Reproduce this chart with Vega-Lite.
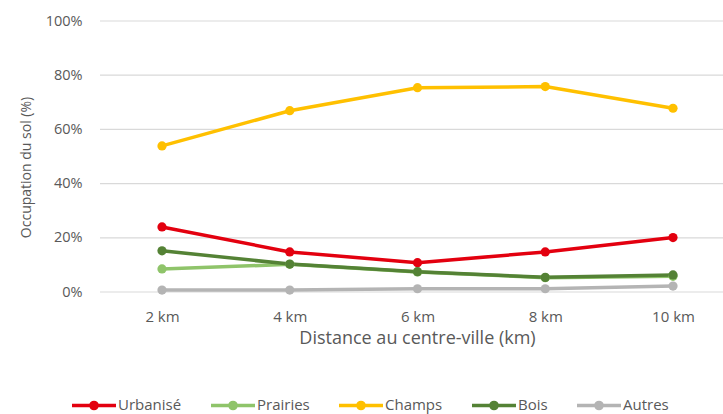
{
  "$schema": "https://vega.github.io/schema/vega-lite/v6.json",
  "width": 623,
  "height": 271,
  "autosize": {"type": "none"},
  "padding": {"left": 100, "top": 21, "right": 0, "bottom": 122},
  "background": "white",
  "config": {
    "view": {"stroke": null},
    "font": "Open Sans",
    "axis": {"labelColor": "#595959", "titleColor": "#595959", "titleFontWeight": "normal"},
    "legend": {"labelColor": "#595959"}
  },
  "layer": [
    {
      "data": {"values": [{"g": 0}, {"g": 0.2}, {"g": 0.4}, {"g": 0.6}, {"g": 0.8}, {"g": 1}]},
      "mark": {"type": "rule", "color": "#d9d9d9", "strokeWidth": 1.2},
      "encoding": {
        "y": {
          "field": "g",
          "type": "quantitative",
          "scale": {"domain": [0, 1]},
          "axis": {
            "title": "Occupation du sol (%)",
            "format": ".0%",
            "values": [0, 0.2, 0.4, 0.6, 0.8, 1],
            "domain": false,
            "ticks": false,
            "grid": false,
            "labelFontSize": 14.5,
            "labelPadding": 18,
            "titleFontSize": 14,
            "titleX": -67,
            "titleY": 146
          }
        }
      }
    },
    {
      "data": {
        "values": [
          {"distance": "2 km", "type": "Urbanisé", "value": 0.24},
          {"distance": "4 km", "type": "Urbanisé", "value": 0.148},
          {"distance": "6 km", "type": "Urbanisé", "value": 0.108},
          {"distance": "8 km", "type": "Urbanisé", "value": 0.148},
          {"distance": "10 km", "type": "Urbanisé", "value": 0.201},
          {"distance": "2 km", "type": "Prairies", "value": 0.085},
          {"distance": "4 km", "type": "Prairies", "value": 0.102},
          {"distance": "6 km", "type": "Prairies", "value": 0.074},
          {"distance": "8 km", "type": "Prairies", "value": 0.053},
          {"distance": "10 km", "type": "Prairies", "value": 0.058},
          {"distance": "2 km", "type": "Champs", "value": 0.539},
          {"distance": "4 km", "type": "Champs", "value": 0.669},
          {"distance": "6 km", "type": "Champs", "value": 0.754},
          {"distance": "8 km", "type": "Champs", "value": 0.758},
          {"distance": "10 km", "type": "Champs", "value": 0.678},
          {"distance": "2 km", "type": "Bois", "value": 0.152},
          {"distance": "4 km", "type": "Bois", "value": 0.103},
          {"distance": "6 km", "type": "Bois", "value": 0.075},
          {"distance": "8 km", "type": "Bois", "value": 0.054},
          {"distance": "10 km", "type": "Bois", "value": 0.063},
          {"distance": "2 km", "type": "Autres", "value": 0.007},
          {"distance": "4 km", "type": "Autres", "value": 0.007},
          {"distance": "6 km", "type": "Autres", "value": 0.012},
          {"distance": "8 km", "type": "Autres", "value": 0.012},
          {"distance": "10 km", "type": "Autres", "value": 0.022}
        ]
      },
      "encoding": {
        "x": {
          "field": "distance",
          "type": "ordinal",
          "sort": ["2 km", "4 km", "6 km", "8 km", "10 km"],
          "scale": {"type": "point", "range": [62, 573], "padding": 0},
          "axis": {
            "title": "Distance au centre-ville (km)",
            "labelAngle": 0,
            "domain": false,
            "ticks": false,
            "grid": false,
            "labelFontSize": 15,
            "labelPadding": 17,
            "titleFontSize": 18,
            "titlePadding": 5,
            "titleX": 317
          }
        },
        "y": {
          "field": "value",
          "type": "quantitative",
          "scale": {"domain": [0, 1]},
          "axis": {
            "title": "Occupation du sol (%)",
            "format": ".0%",
            "values": [0, 0.2, 0.4, 0.6, 0.8, 1],
            "domain": false,
            "ticks": false,
            "grid": false,
            "labelFontSize": 14.5,
            "labelPadding": 18,
            "titleFontSize": 14,
            "titleX": -67,
            "titleY": 146
          }
        },
        "color": {
          "field": "type",
          "type": "nominal",
          "sort": ["Urbanisé", "Prairies", "Champs", "Bois", "Autres"],
          "scale": {
            "domain": ["Urbanisé", "Prairies", "Champs", "Bois", "Autres"],
            "range": ["#e3000f", "#8fc46a", "#ffc000", "#548235", "#b4b4b4"]
          },
          "legend": {
            "title": null,
            "orient": "none",
            "direction": "horizontal",
            "legendX": -30,
            "legendY": 360,
            "symbolType": "M-1,0L1,0M-0.14,0A0.14,0.14 0 1,0 0.14,0A0.14,0.14 0 1,0 -0.14,0",
            "symbolSize": 1936,
            "symbolStrokeWidth": 3.5,
            "labelFontSize": 15,
            "labelOffset": 0,
            "columnPadding": 22
          }
        }
      },
      "layer": [
        {"mark": {"type": "line", "strokeWidth": 3.5}},
        {"mark": {"type": "point", "filled": true, "size": 85, "opacity": 1}}
      ]
    }
  ]
}
